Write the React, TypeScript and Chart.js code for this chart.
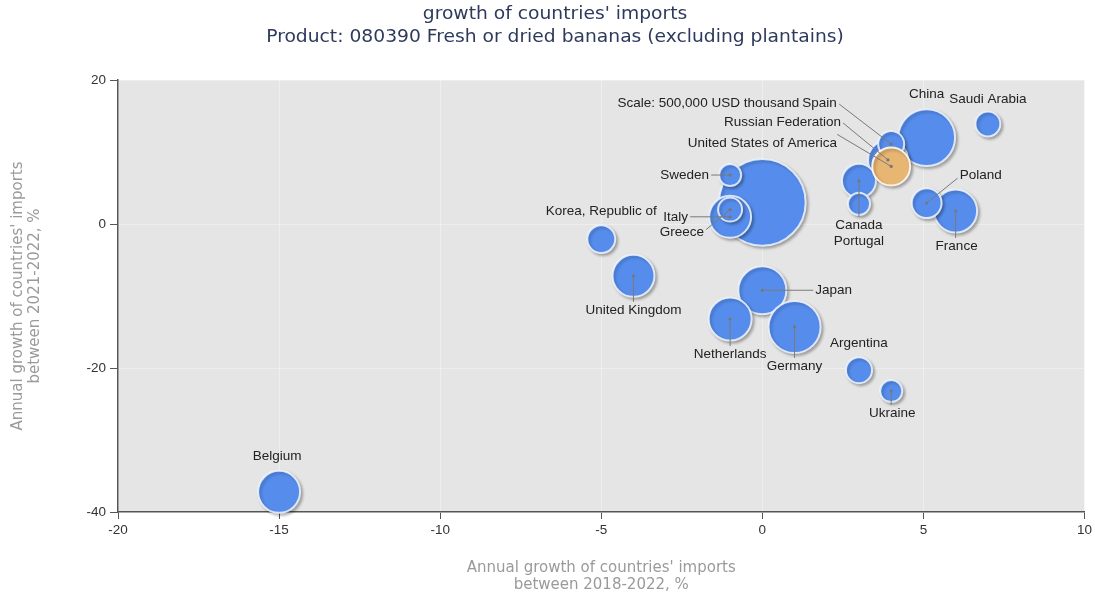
import React, { useEffect, useRef } from "react";
import { Chart, registerables } from "chart.js";

Chart.register(...registerables);

const titleLines = [
  "growth of countries' imports",
  "Product: 080390 Fresh or dried bananas (excluding plantains)",
];
const xAxisTitle = ["Annual growth of countries' imports", "between 2018-2022, %"];
const yAxisTitle = ["Annual growth of countries' imports", "between 2021-2022, %"];

const countries = [
  "United States of America",
  "China",
  "Japan",
  "Germany",
  "Netherlands",
  "Belgium",
  "United Kingdom",
  "France",
  "Italy",
  "Russian Federation",
  "Canada",
  "Poland",
  "Korea, Republic of",
  "Spain",
  "Argentina",
  "Saudi Arabia",
  "Greece",
  "Portugal",
  "Ukraine",
  "Sweden",
];
// Annual growth of imports 2018-2022, %
const growth2018to2022 = [0, 5.1, 0, 1.0, -1.0, -15, -4, 6, -1, 3.9, 3, 5.1, -5, 4, 3, 7, -1, 3, 4, -1];
// Annual growth of imports 2021-2022, %
const growth2021to2022 = [3, 12, -9.2, -14.3, -13.2, -37.2, -7.2, 1.8, 1, 8.9, 6, 2.9, -2.1, 11.1, -20.3, 13.9, 2, 2.8, -23.2, 6.8];
// Imported value 2022, USD thousand
const importValues = [
  2600000, 1120000, 800000, 940000, 640000, 610000, 610000, 640000, 610000, 550000,
  400000, 310000, 270000, 235000, 235000, 215000, 200000, 170000, 170000, 170000,
];

const scaleLabel = "Scale: 500,000 USD thousand";
const scaleValue = 500000;
const scaleX = [4];
const scaleY = [8];

const xTicks = { min: -20, max: 10, step: 5 };
const yTicks = { min: -40, max: 20, step: 20 };

// label layout (pixel offsets from the bubble centre)
type LabelCfg = { dx: number; dy: number; align?: CanvasTextAlign; line?: [number, number] };
const labelLayout: Record<string, LabelCfg> = {
  "United States of America": { dx: 0, dy: -59 },
  China: { dx: 0, dy: -43 },
  Japan: { dx: 53, dy: 0, align: "left", line: [51, 0] },
  Germany: { dx: 0, dy: 39, line: [0, 31] },
  Netherlands: { dx: 0, dy: 35, line: [0, 27] },
  Belgium: { dx: -2, dy: -36 },
  "United Kingdom": { dx: 0, dy: 34, line: [0, 26] },
  France: { dx: 1, dy: 35, line: [0, 27] },
  Italy: { dx: -42, dy: 0, align: "right", line: [-40, 0] },
  "Russian Federation": { dx: -47, dy: -38, align: "right", line: [-45, -37] },
  Canada: { dx: 0, dy: 44, line: [0, 36] },
  Poland: { dx: 33, dy: -28, align: "left", line: [31, -25] },
  "Korea, Republic of": { dx: 0, dy: -28 },
  Spain: { dx: -89, dy: -41, align: "left", line: [-52, -40] },
  Argentina: { dx: 0, dy: -27 },
  "Saudi Arabia": { dx: 0, dy: -25 },
  Greece: { dx: -26, dy: 23, align: "right", line: [-24, 20] },
  Portugal: { dx: 0, dy: 37 },
  Ukraine: { dx: 1, dy: 22, line: [0, 14] },
  Sweden: { dx: -21, dy: 0, align: "right", line: [-19, 0] },
  [scaleLabel]: { dx: -92, dy: -63, align: "right", line: [-54, -32] },
};

const SCALE_RADIUS = 19;
const radiusFor = (v: number) => SCALE_RADIUS * Math.sqrt(v / scaleValue);

const bgPlugin = {
  id: "plotBg",
  beforeDraw(chart: any) {
    const { ctx, chartArea: a } = chart;
    ctx.save();
    ctx.fillStyle = "#e5e5e5";
    ctx.fillRect(a.left, a.top, a.right - a.left, a.bottom - a.top);
    ctx.restore();
  },
};

const titlePlugin = {
  id: "twoLineTitle",
  afterDraw(chart: any) {
    const ctx = chart.ctx;
    ctx.save();
    ctx.font = '17px "DejaVu Sans", sans-serif';
    ctx.fillStyle = "#2e3a5c";
    ctx.textAlign = "center";
    ctx.textBaseline = "middle";
    const cx = 555;
    titleLines.forEach((line, i) => {
      ctx.save();
      ctx.translate(cx, 14.5 + i * 23);
      ctx.scale(1.1, 1);
      ctx.fillText(line, 0, 0);
      ctx.restore();
    });
    ctx.restore();
  },
};

const shadowPlugin = {
  id: "bubbleShadow",
  beforeDatasetsDraw(chart: any) {
    const ctx = chart.ctx;
    ctx.save();
    ctx.shadowColor = "rgba(0,0,0,0.28)";
    ctx.shadowBlur = 3;
    ctx.shadowOffsetX = 2;
    ctx.shadowOffsetY = 2;
  },
  afterDatasetsDraw(chart: any) {
    chart.ctx.restore();
  },
};

const labelPlugin = {
  id: "bubbleLabels",
  afterDatasetsDraw(chart: any) {
    const ctx = chart.ctx;
    ctx.save();
    chart.data.datasets.forEach((ds: any, di: number) => {
      const meta = chart.getDatasetMeta(di);
      meta.data.forEach((el: any, i: number) => {
        const name = ds.labels[i];
        const cfg = labelLayout[name];
        if (!cfg) return;
        const x = el.x;
        const y = el.y;
        if (cfg.line) {
          ctx.strokeStyle = "#7a7a7a";
          ctx.lineWidth = 1;
          ctx.beginPath();
          ctx.moveTo(x + cfg.line[0], y + cfg.line[1]);
          ctx.lineTo(x, y);
          ctx.stroke();
          ctx.fillStyle = "#777";
          ctx.beginPath();
          ctx.arc(x, y, 1.6, 0, Math.PI * 2);
          ctx.fill();
        }
        ctx.font = '13.5px "Liberation Sans", Arial, sans-serif';
        ctx.fillStyle = "#222";
        ctx.textAlign = cfg.align || "center";
        ctx.textBaseline = "middle";
        ctx.fillText(name, x + cfg.dx, y + cfg.dy);
      });
    });
    ctx.restore();
  },
};

export default function App() {
  const ref = useRef<HTMLCanvasElement | null>(null);
  useEffect(() => {
    if (!ref.current) return;
    const chart = new Chart(ref.current, {
      type: "bubble",
      data: {
        datasets: [
          {
            labels: countries,
            data: countries.map((_, i) => ({
              x: growth2018to2022[i],
              y: growth2021to2022[i],
              r: radiusFor(importValues[i]),
            })),
            backgroundColor: "rgb(86,141,236)",
            borderColor: "rgba(240,246,255,0.85)",
            borderWidth: 2,
            clip: false,
            order: 1,
          } as any,
          {
            labels: [scaleLabel],
            data: scaleX.map((x, i) => ({ x, y: scaleY[i], r: radiusFor(scaleValue) })),
            backgroundColor: "rgb(232,182,115)",
            borderColor: "rgba(255,250,240,0.9)",
            borderWidth: 2,
            clip: false,
            order: 0,
          } as any,
        ],
      },
      options: {
        animation: false,
        responsive: true,
        maintainAspectRatio: false,
        layout: { autoPadding: false, padding: { left: 0, right: 8, top: 80, bottom: 0 } },
        plugins: {
          legend: { display: false },
          tooltip: { enabled: false },
          title: { display: false },
        },
        scales: {
          x: {
            type: "linear",
            min: xTicks.min,
            max: xTicks.max,
            afterFit: (s: any) => {
              s.height = 89;
            },
            ticks: {
              stepSize: xTicks.step,
              color: "#333",
              padding: 3,
              font: { family: '"Liberation Sans", Arial, sans-serif', size: 13.5 },
            },
            grid: {
              color: "rgba(255,255,255,0.35)",
              tickColor: "#555",
              tickLength: 7,
            },
            border: { color: "#555", width: 1.5 },
            title: {
              display: true,
              text: xAxisTitle,
              color: "#9a9a9a",
              font: { family: '"DejaVu Sans", sans-serif', size: 15, lineHeight: 17 / 15 },
              padding: { top: 0, bottom: 7.5 },
            },
          },
          y: {
            type: "linear",
            min: yTicks.min,
            max: yTicks.max,
            afterFit: (s: any) => {
              s.width = 118;
            },
            ticks: {
              stepSize: yTicks.step,
              color: "#333",
              padding: 4,
              font: { family: '"Liberation Sans", Arial, sans-serif', size: 13.5 },
            },
            grid: {
              color: "rgba(255,255,255,0.35)",
              tickColor: "#555",
              tickLength: 8,
            },
            border: { color: "#555", width: 1.5 },
            title: {
              display: true,
              text: yAxisTitle,
              color: "#9a9a9a",
              font: { family: '"DejaVu Sans", sans-serif', size: 15, lineHeight: 17 / 15 },
              padding: { top: 9.5, bottom: 0 },
            },
          },
        },
      },
      plugins: [bgPlugin, shadowPlugin, labelPlugin, titlePlugin],
    } as any);
    return () => chart.destroy();
  }, []);
  return (
    <div style={{ position: "absolute", left: 0, top: 0, width: 1095, height: 601 }}>
      <canvas ref={ref} />
    </div>
  );
}
